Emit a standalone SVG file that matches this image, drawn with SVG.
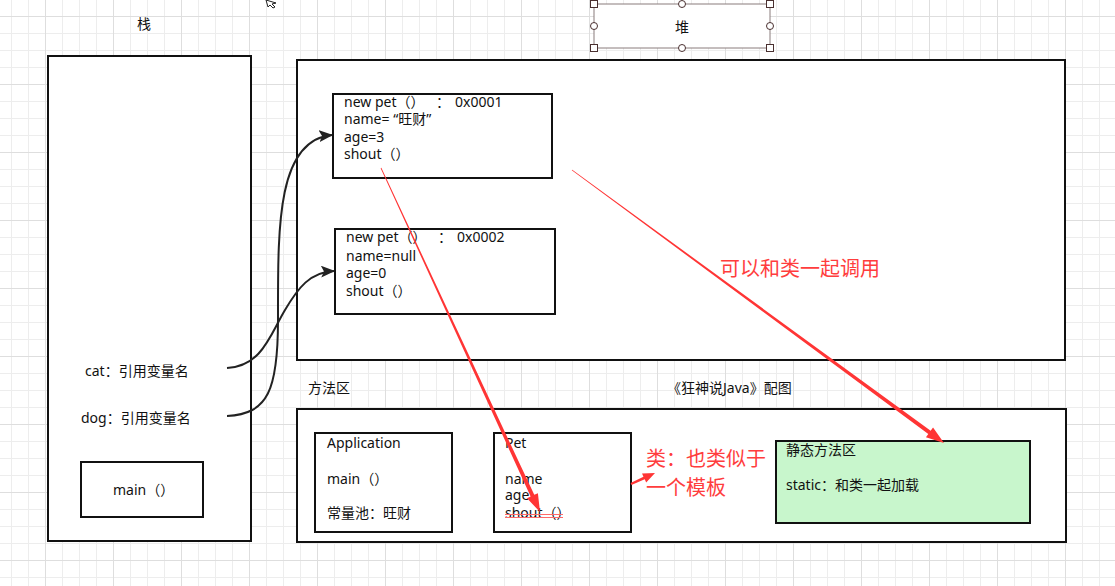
<svg xmlns="http://www.w3.org/2000/svg" width="1115" height="586" viewBox="0 0 1115 586">
<style>
  .t { font-family: "Noto Sans", "Noto Sans CJK SC", sans-serif; font-size: 14px; fill: #111; white-space: pre; }
  .r { font-family: "Noto Sans CJK SC", sans-serif; font-size: 20px; fill: #ff3d3d; }
  .box { fill: #fff; stroke: #111; stroke-width: 2; }
  .conn { fill: none; stroke: #222; stroke-width: 2; }
  .red { fill: #ff3535; stroke: none; }
  .hs { fill: #fff; stroke: #4a3030; stroke-width: 1; }
</style>
<defs>
  <pattern id="minor" x="11" y="16" width="17" height="17" patternUnits="userSpaceOnUse">
    <path d="M0.5 0V17M0 0.5H17" stroke="#ededed" stroke-width="1" fill="none"/>
  </pattern>
  <pattern id="major" x="45" y="16" width="68" height="68" patternUnits="userSpaceOnUse">
    <path d="M0.5 0V68M0 0.5H68" stroke="#dedede" stroke-width="1" fill="none"/>
  </pattern>
  <marker id="ah" markerWidth="14" markerHeight="12" refX="13" refY="6" orient="auto" markerUnits="userSpaceOnUse">
    <path d="M0 0 L14 6 L0 12 L3 6 Z" fill="#222"/>
  </marker>
</defs>
<rect width="1115" height="586" fill="#fff"/>
<rect width="1115" height="586" fill="url(#minor)"/>
<rect width="1115" height="586" fill="url(#major)"/>

<!-- cursor -->
<path d="M266 0 L268 7 L270 5 L273 8 L275 7 L272 4 L276 3 Z" fill="#fff" stroke="#222" stroke-width="1"/>

<g id="stack">
  <text class="t" x="144" y="29" text-anchor="middle">栈</text>
  <rect class="box" x="48" y="56" width="203" height="485"/>
  <text class="t" x="85" y="376">cat：引用变量名</text>
  <text class="t" x="81" y="423">dog：引用变量名</text>
</g>
<g id="main-frame">
  <rect class="box" x="81" y="462" width="122" height="55"/>
  <text class="t" x="113" y="495">main（）</text>
</g>

<g id="heap-label">
  <rect x="594" y="4" width="176" height="44" fill="#fff" stroke="#8a7c7c" stroke-width="1"/>
  <text class="t" x="682" y="32" text-anchor="middle">堆</text>
  <rect class="hs" x="590.5" y="0.5" width="7" height="7"/>
  <rect class="hs" x="766.5" y="0.5" width="7" height="7"/>
  <rect class="hs" x="590.5" y="44.5" width="7" height="7"/>
  <rect class="hs" x="766.5" y="44.5" width="7" height="7"/>
  <circle class="hs" cx="682" cy="4" r="3.5"/>
  <circle class="hs" cx="682" cy="48" r="3.5"/>
  <circle class="hs" cx="594" cy="26" r="3.5"/>
  <circle class="hs" cx="770" cy="26" r="3.5"/>
</g>

<g id="heap">
  <rect class="box" x="297" y="60" width="768" height="300"/>
</g>
<g id="obj1">
  <rect class="box" x="333" y="94" width="219" height="84"/>
  <text class="t" y="107"><tspan x="344">new pet（）</tspan><tspan x="436">：</tspan><tspan x="455">0x0001</tspan></text>
  <text class="t" x="344" y="124">name= “旺财”</text>
  <text class="t" x="344" y="142">age=3</text>
  <text class="t" x="344" y="159">shout（）</text>
</g>
<g id="obj2">
  <rect class="box" x="335" y="229" width="220" height="85"/>
  <text class="t" y="242"><tspan x="346">new pet（）</tspan><tspan x="438">：</tspan><tspan x="457">0x0002</tspan></text>
  <text class="t" x="346" y="261">name=null</text>
  <text class="t" x="346" y="278">age=0</text>
  <text class="t" x="346" y="296">shout（）</text>
</g>

<g id="method-area">
  <text class="t" x="308" y="393">方法区</text>
  <text class="t" x="667" y="393">《狂神说Java》配图</text>
  <rect class="box" x="297" y="409" width="769" height="133"/>
</g>
<g id="application">
  <rect class="box" x="315" y="433" width="137" height="99"/>
  <text class="t" x="327" y="448">Application</text>
  <text class="t" x="327" y="484">main（）</text>
  <text class="t" x="327" y="518">常量池：旺财</text>
</g>
<g id="pet">
  <rect class="box" x="494" y="433" width="137" height="99"/>
  <text class="t" x="505" y="448">Pet</text>
  <text class="t" x="505" y="484">name</text>
  <text class="t" x="505" y="500">age</text>
  <text class="t" x="505" y="518">shout（）</text>
</g>
<g id="static-area">
  <rect x="776" y="441" width="254" height="82" fill="#c8f6cc" stroke="#111" stroke-width="2"/>
  <text class="t" x="786" y="455">静态方法区</text>
  <text class="t" x="786" y="490">static：和类一起加载</text>
</g>

<g id="connectors">
  <path class="conn" marker-end="url(#ah)" d="M227 416 C268 414 278 390 278 320 C278 230 276 140 332 135"/>
  <path class="conn" marker-end="url(#ah)" d="M227 368 C262 366 270 335 285 310 C298 288 310 272 334 271"/>
</g>

<g id="annotations">
  <polygon class="red" points="380.64,168.17 530.63,496.5 527.0,498.18 540,512 537.9,493.14 534.27,494.82 381.36,167.83"/>
  <path d="M505 514.5H563M505 517.5H563" stroke="#ff6a6a" stroke-width="1" fill="none"/>
  <polygon class="red" points="571.76,170.32 928.31,433.96 925.94,437.19 944,443 933.04,427.51 930.67,430.74 572.24,169.68"/>
  <polygon class="red" points="631.42,484.91 644.73,479.36 646.18,482.55 655,473 642.02,473.45 643.47,476.64 630.58,483.09"/>
  <text class="r" x="720" y="276">可以和类一起调用</text>
  <text class="r" x="646" y="466">类：也类似于</text>
  <text class="r" x="646" y="495">一个模板</text>
</g>
</svg>
